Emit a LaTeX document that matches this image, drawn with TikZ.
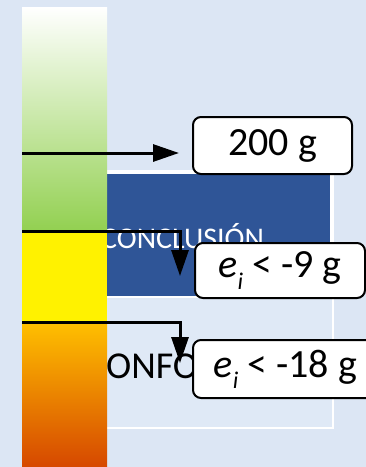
\documentclass[tikz,border=0pt]{standalone}
\usepackage{fontspec}
\setmainfont{Carlito}
\usetikzlibrary{arrows.meta}
\definecolor{pagebg}{RGB}{220,230,244}
\definecolor{panelbg}{RGB}{223,233,246}
\definecolor{panelblue}{RGB}{47,85,151}
\definecolor{levelgreen}{RGB}{146,208,80}
\definecolor{levelorange}{RGB}{255,192,0}
\definecolor{levelred}{RGB}{214,72,0}
\tikzset{tag/.style={draw,rounded corners=8pt,line width=2pt,fill=white,inner sep=0pt,font=\fontsize{40}{44}\selectfont},
  arrow/.style={-{Triangle[length=26pt,width=17pt]},line width=3pt}}
\newcommand{\ei}{\textit{e}\raisebox{-.28em}{\fontsize{24}{26}\selectfont\textit{i}}}

\begin{document}
\begin{tikzpicture}[x=1pt,y=-1pt]
  \path[use as bounding box,fill=pagebg] (0,0) rectangle (366,467);
  \draw[white,line width=1.5pt,fill=panelbg] (60,171) rectangle (333,428);
  \draw[white,line width=1.5pt,fill=panelblue] (60,173) rectangle (331,297);
  \node[anchor=base west,text=white,font=\fontsize{30}{32}\selectfont,inner sep=0pt] (concl) at (101,248) {CONCLUSIÓN};
  \node[anchor=base west,font=\fontsize{38}{40}\selectfont,inner sep=0pt] (confo) at (86,378) {CONFO};
  % level bar
  \shade[top color=white,bottom color=levelgreen] (22,7) rectangle (107,232);
  \fill[yellow] (22,232) rectangle (107,322);
  \shade[top color=levelorange,bottom color=levelred] (22,322) rectangle (107,467);
  % limits
  \node[tag,minimum width=159pt,minimum height=57pt] (w200) at (272.5,145.5) {200 g};
  \node[tag,minimum width=170pt,minimum height=55pt] (e9) at (280,270.5) {\ei{} < -9 g};
  \node[tag,minimum width=185pt,minimum height=58pt] (e18) at (285.5,369) {\ei{} < -18 g};
  \coordinate (a1) at (22,153);
  \coordinate (a2) at (22,231);
  \coordinate (t2) at (180,276);
  \coordinate (a3) at (22,322);
  \coordinate (t3) at (180,363);
  \draw[arrow,shorten >=13pt] (a1) -- (a1 -| w200.west);
  \draw[arrow] (a2) -| (t2);
  \draw[arrow] (a3) -| (t3);
\end{tikzpicture}
\end{document}
